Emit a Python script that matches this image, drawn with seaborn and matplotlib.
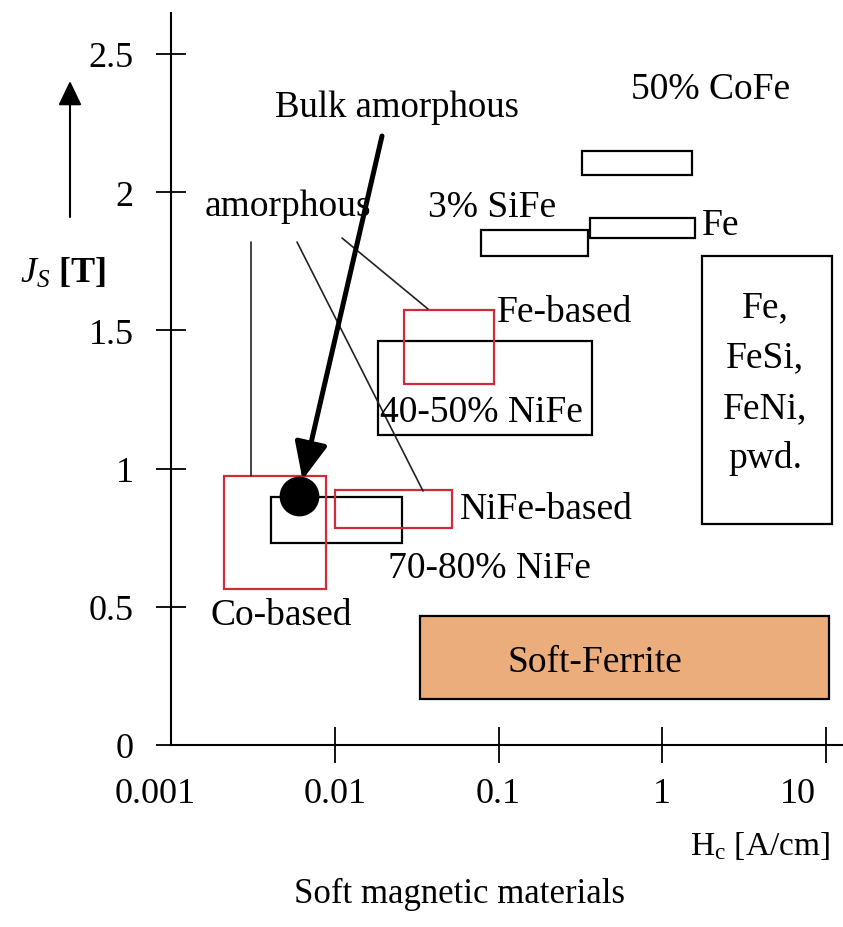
import matplotlib
matplotlib.use("Agg")
import matplotlib.pyplot as plt
from matplotlib.patches import Rectangle
from matplotlib.ticker import NullLocator
from matplotlib.transforms import ScaledTranslation
import pandas as pd
import seaborn as sns

# Material regions: coercivity range Hc [A/cm] and saturation polarization Js [T]
materials = ["50% CoFe", "Fe", "3% SiFe", "Fe, FeSi, FeNi, pwd.", "40-50% NiFe",
             "Fe-based", "70-80% NiFe", "Co-based", "NiFe-based", "Soft-Ferrite"]
kind = ["crystalline", "crystalline", "crystalline", "crystalline", "crystalline",
        "amorphous", "crystalline", "amorphous", "amorphous", "ferrite"]
hc_low = [0.325, 0.364, 0.0777, 1.75, 0.0183, 0.0264, 0.00407, 0.0021, 0.0100, 0.033]
hc_high = [1.52, 1.59, 0.354, 10.9, 0.374, 0.0933, 0.0256, 0.00881, 0.0517, 10.4]
js_low = [2.062, 1.834, 1.769, 0.80, 1.122, 1.306, 0.731, 0.564, 0.785, 0.166]
js_high = [2.149, 1.907, 1.863, 1.769, 1.462, 1.574, 0.897, 0.973, 0.923, 0.467]

# Bulk amorphous alloy
bulk_hc = [0.00603]
bulk_js = [0.901]

x_ticks = [0.001, 0.01, 0.1, 1, 10]
x_tick_labels = ["0.001", "0.01", "0.1", "1", "10"]
y_ticks = [0, 0.5, 1, 1.5, 2, 2.5]
y_tick_labels = ["0", "0.5", "1", "1.5", "2", "2.5"]

sns.set_theme(style="white")
plt.rcParams["font.family"] = ["Liberation Serif", "DejaVu Serif"]
plt.rcParams["mathtext.fontset"] = "custom"
plt.rcParams["mathtext.rm"] = "Liberation Serif"
plt.rcParams["mathtext.it"] = "Liberation Serif:italic"
plt.rcParams["mathtext.bf"] = "Liberation Serif:bold"

W, H = 843, 928
fig = plt.figure(figsize=(W / 100, H / 100), dpi=100)
ax = fig.add_axes([171 / W, 182 / H, 672 / W, 732 / H])
ax.set_xscale("log")
ax.set_xlim(1e-3, 12.7)
ax.set_ylim(0, 2.648)

df = pd.DataFrame({"material": materials, "kind": kind, "hc_low": hc_low,
                   "hc_high": hc_high, "js_low": js_low, "js_high": js_high})
edge = {"crystalline": "black", "amorphous": "#d12a38", "ferrite": "black"}
face = {"crystalline": "none", "amorphous": "none", "ferrite": "#ecad7c"}
for r in df.itertuples():
    ax.add_patch(Rectangle((r.hc_low, r.js_low), r.hc_high - r.hc_low,
                           r.js_high - r.js_low, facecolor=face[r.kind],
                           edgecolor=edge[r.kind], lw=1.6,
                           zorder=3 if r.kind == "amorphous" else 2))

pts = pd.DataFrame({"hc": bulk_hc, "js": bulk_js})
sns.scatterplot(data=pts, x="hc", y="js", ax=ax, color="black", s=820,
                edgecolor="black", linewidth=0, zorder=6, legend=False)
ax.set_xlabel("")
ax.set_ylabel("")

# axes styling
for s in ["top", "right"]:
    ax.spines[s].set_visible(False)
for s in ["left", "bottom"]:
    ax.spines[s].set_color("black")
    ax.spines[s].set_linewidth(1.5)

ax.set_xticks(x_ticks, labels=x_tick_labels)
ax.xaxis.set_minor_locator(NullLocator())
ax.set_yticks(y_ticks, labels=y_tick_labels)
ax.tick_params(axis="x", bottom=True, direction="inout", length=26, width=1.3,
               labelsize=26, pad=10, colors="black")
ax.tick_params(axis="y", left=True, direction="inout", length=22, width=1.3,
               labelsize=26, pad=16, colors="black")
ax.xaxis.get_major_ticks()[0].tick1line.set_visible(False)
label_shift = {"0.001": -16, "10": -28}
for lab in ax.get_xticklabels():
    dx = label_shift.get(lab.get_text(), 0)
    if dx:
        lab.set_transform(lab.get_transform() + ScaledTranslation(dx / 100, 0, fig.dpi_scale_trans))
ax.grid(False)


def ftext(x, y, s, size=27, ha="left", **kw):
    fig.text(x / W, 1 - y / H, s, fontsize=size, ha=ha, va="baseline", color="black", **kw)


# region labels
ftext(711, 99, "50% CoFe", ha="center")
ftext(492, 217, "3% SiFe", ha="center")
ftext(288, 216, "amorphous", ha="center")
ftext(702, 235, "Fe")
ftext(497, 322, "Fe-based")
ftext(380, 422, "40-50% NiFe")
ftext(460, 519, "NiFe-based")
ftext(388, 578, "70-80% NiFe")
ftext(210, 625, "Co-based")
ftext(595, 672, "Soft-Ferrite", ha="center")
for i, line in enumerate(["Fe,", "FeSi,", "FeNi,", "pwd."]):
    ftext(765, 317 + 50.5 * i, line, ha="center")

ftext(397, 117, "Bulk amorphous", size=26.5, ha="center")

# axis titles
ftext(760, 855, r"H$_\mathrm{c}$ [A/cm]", size=24, ha="center")
ftext(63, 283, r"$J_S$ [T]", size=26, ha="center", fontweight="bold")
ftext(460, 903, "Soft magnetic materials", size=25, ha="center")

# arrow next to the Js label
ax.annotate("", xy=(70, H - 82), xycoords="figure pixels",
            xytext=(70, H - 218), textcoords="figure pixels",
            arrowprops=dict(arrowstyle="-|>,head_length=0.75,head_width=0.36",
                            color="black", lw=1.5, mutation_scale=20,
                            shrinkA=0, shrinkB=0))

# leader lines from the "amorphous" label to the amorphous regions
leader_lines = [((251, 243), (251, 477)), ((297, 243), (423, 492)), ((342, 239), (428, 310))]
for (x0, y0), (x1, y1) in leader_lines:
    ax.annotate("", xy=(x1, H - y1), xycoords="figure pixels",
                xytext=(x0, H - y0), textcoords="figure pixels",
                arrowprops=dict(arrowstyle="-", color="#222222", lw=1.2,
                                shrinkA=0, shrinkB=0))

# arrow pointing at the bulk amorphous alloy
ax.annotate("", xy=(bulk_hc[0], bulk_js[0]), xycoords="data",
            xytext=(382, H - 137), textcoords="figure pixels",
            arrowprops=dict(arrowstyle="-|>,head_length=0.9,head_width=0.4",
                            color="black", lw=3.6, mutation_scale=25,
                            shrinkA=0, shrinkB=12), zorder=7)

fig.savefig("out.png", dpi=100)
